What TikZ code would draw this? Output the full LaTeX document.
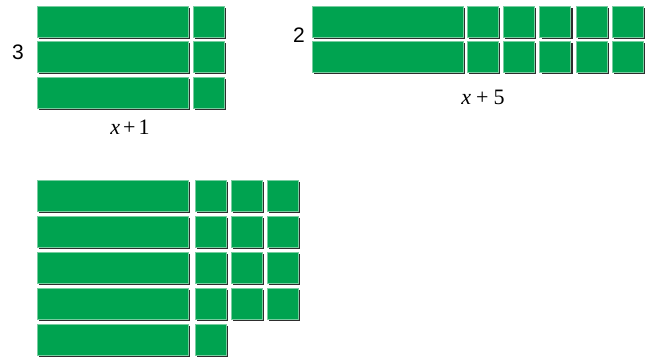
\documentclass[tikz,border=0pt]{standalone}
\usepackage{fontspec}
\setmainfont{Liberation Serif}
\newfontfamily\labelsans{Liberation Sans}
\usetikzlibrary{shadows}
\definecolor{tilegreen}{RGB}{0,163,80}
\definecolor{tileedge}{RGB}{120,205,160}
\definecolor{tileshadow}{RGB}{45,45,45}
\begin{document}
\begin{tikzpicture}[x=1pt,y=-1pt,
  tile/.style={rectangle, fill=tilegreen, draw=tileedge, line width=0.5pt,
    inner sep=0pt, outer sep=0pt, anchor=north west,
    drop shadow={shadow xshift=2pt, shadow yshift=-2pt, fill=tileshadow, opacity=1}},
  longtile/.style={tile, minimum width=151pt, minimum height=31pt},
  unittile/.style={tile, minimum width=31pt, minimum height=31pt},
  countlabel/.style={font=\labelsans\fontsize{21}{24}\selectfont, inner sep=0pt},
  dimlabel/.style={font=\fontsize{22}{26}\selectfont, inner sep=0pt}]
\useasboundingbox (0,0) rectangle (647,358);
% Group A: 3(x+1)
\foreach \r/\y in {1/6,2/41.5,3/77}{
  \node[longtile] (A-bar-\r) at (37,\y) {};
  \node[unittile] (A-sq-\r) at (193,\y) {};
}
\node[countlabel] (A-count) at (18,52) {3};
\node[dimlabel] (A-dim) at (130,127) {\textit{x}\hspace{3pt}+\hspace{3pt}1};
% Group B: 2(x+5)
\foreach \r/\y in {1/6,2/41.5}{
  \node[longtile] (B-bar-\r) at (312,\y) {};
  \foreach \c/\x in {1/467,2/503.25,3/539.5,4/575.75,5/612}{
    \node[unittile] (B-sq-\r-\c) at (\x,\y) {};
  }
}
\node[countlabel] (B-count) at (299,35) {2};
\node[dimlabel] (B-dim) at (483,97) {\textit{x}\hspace{5pt}+\hspace{5pt}5};
% Group C
\foreach \r/\y in {1/180,2/216,3/252,4/288,5/324}{
  \node[longtile] (C-bar-\r) at (37,\y) {};
}
\foreach \r/\y in {1/180,2/216,3/252,4/288}{
  \foreach \c/\x in {1/195,2/231,3/267}{
    \node[unittile] (C-sq-\r-\c) at (\x,\y) {};
  }
}
\node[unittile] (C-sq-5-1) at (195,324) {};
\end{tikzpicture}
\end{document}
